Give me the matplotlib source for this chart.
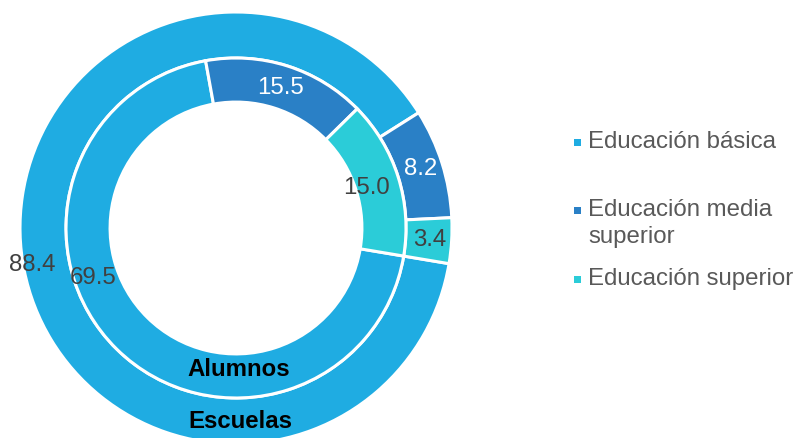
import matplotlib.pyplot as plt
from matplotlib.patches import Rectangle

plt.rcParams["font.family"] = ["Liberation Sans", "DejaVu Sans"]

categorias = ["Educación básica", "Educación media\nsuperior", "Educación superior"]
escuelas = [88.4, 8.2, 3.4]
alumnos = [69.5, 15.5, 15.0]
colores = ["#1FACE2", "#2A80C6", "#2BCCD8"]

# label offsets inside each ring (data units, radius 1 = outer edge)
pos_escuelas = [(-0.944, -0.171), (0.856, 0.273), (0.898, -0.056)]
pos_alumnos = [(-0.662, -0.231), (0.204, 0.648), (0.606, 0.185)]
txt_escuelas = ["#404040", "white", "#404040"]
txt_alumnos = ["#404040", "white", "#404040"]

FS = 17.3

fig = plt.figure(figsize=(7.96, 4.38), dpi=100)
ax = fig.add_axes([20 / 796, -6 / 438, 432 / 796, 432 / 438])

wp = dict(edgecolor="white", linewidth=2.2)
ax.pie(escuelas, radius=1.0, colors=colores, startangle=-9.5,
       counterclock=False, wedgeprops=dict(width=0.213, **wp))
ax.pie(alumnos, radius=0.787, colors=colores, startangle=-9.5,
       counterclock=False, wedgeprops=dict(width=0.204, **wp))
ax.set_xlim(-1, 1)
ax.set_ylim(-1, 1)

for v, (x, y), c in zip(escuelas, pos_escuelas, txt_escuelas):
    ax.text(x, y, f"{v:.1f}", ha="center", va="center", fontsize=FS, color=c)
for v, (x, y), c in zip(alumnos, pos_alumnos, txt_alumnos):
    ax.text(x, y, f"{v:.1f}", ha="center", va="center", fontsize=FS, color=c)

ax.text(0.014, -0.653, "Alumnos", ha="center", va="center", fontsize=FS,
        fontweight="bold", color="black")
ax.text(0.0185, -0.898, "Escuelas", ha="center", va="center", fontsize=FS,
        fontweight="bold", color="black")

# legend entries on the right
leg_y = [142, 223.5, 279]
sq_y = [142, 210, 279]
for cat, col, y, sy in zip(categorias, colores, leg_y, sq_y):
    fig.add_artist(Rectangle((573.5 / 796, 1 - (sy + 3.5) / 438), 7 / 796, 7 / 438,
                             transform=fig.transFigure, color=col, lw=0))
    fig.text(588 / 796, 1 - y / 438, cat, ha="left", va="center", fontsize=FS,
             color="#595959", linespacing=1.28)

fig.savefig("out.png", dpi=100)
